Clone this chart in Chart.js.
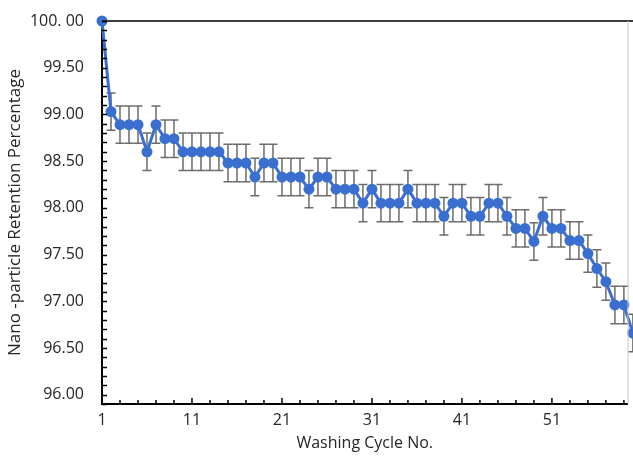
<!DOCTYPE html>
<html>
<head>
<meta charset="utf-8">
<script src="https://cdn.jsdelivr.net/npm/chart.js@4"></script>
<style>
  html, body { margin: 0; padding: 0; background: #fff; }
  #wrap { width: 633px; height: 457px; }
</style>
</head>
<body>
<div id="wrap"><canvas id="chart" width="633" height="457"></canvas></div>
<script>
const cycles = [1, 2, 3, 4, 5, 6, 7, 8, 9, 10, 11, 12, 13, 14, 15, 16, 17, 18, 19, 20,
  21, 22, 23, 24, 25, 26, 27, 28, 29, 30, 31, 32, 33, 34, 35, 36, 37, 38, 39, 40,
  41, 42, 43, 44, 45, 46, 47, 48, 49, 50, 51, 52, 53, 54, 55, 56, 57, 58, 59, 60];

const retention = [100.00, 99.03, 98.89, 98.89, 98.89, 98.60, 98.89, 98.74, 98.74, 98.60,
  98.60, 98.60, 98.60, 98.60, 98.48, 98.48, 98.48, 98.33, 98.48, 98.48,
  98.33, 98.33, 98.33, 98.20, 98.33, 98.33, 98.20, 98.20, 98.20, 98.05,
  98.20, 98.05, 98.05, 98.05, 98.20, 98.05, 98.05, 98.05, 97.91, 98.05,
  98.05, 97.91, 97.91, 98.05, 98.05, 97.91, 97.78, 97.78, 97.64, 97.91,
  97.78, 97.78, 97.65, 97.65, 97.51, 97.35, 97.21, 96.96, 96.96, 96.66];

const errorBars = [0, 0.20, 0.20, 0.20, 0.20, 0.20, 0.20, 0.20, 0.20, 0.20,
  0.20, 0.20, 0.20, 0.20, 0.20, 0.20, 0.20, 0.20, 0.20, 0.20,
  0.20, 0.20, 0.20, 0.20, 0.20, 0.20, 0.20, 0.20, 0.20, 0.20,
  0.20, 0.20, 0.20, 0.20, 0.20, 0.20, 0.20, 0.20, 0.20, 0.20,
  0.20, 0.20, 0.20, 0.20, 0.20, 0.20, 0.20, 0.20, 0.20, 0.20,
  0.20, 0.20, 0.20, 0.20, 0.20, 0.20, 0.20, 0.20, 0.20, 0.20];

const xTickValues = [1, 11, 21, 31, 41, 51];
const xTickLabels = ["1", "11", "21", "31", "41", "51"];
const yTickValues = [96, 96.5, 97, 97.5, 98, 98.5, 99, 99.5, 100];
const yTickLabels = ["96.00", "96.50", "97.00", "97.50", "98.00", "98.50", "99.00", "99.50", "100. 00"];

const textColor = "#262626";
const lineBlue = "#3a6fd0";

// error bars under the line, frame and inner tick marks on top
const extras = {
  id: "extras",
  beforeDatasetsDraw(chart) {
    const { ctx } = chart;
    const xs = chart.scales.x;
    const ys = chart.scales.y;
    ctx.save();
    ctx.strokeStyle = "#6b6b6b";
    ctx.lineWidth = 1.5;
    cycles.forEach((c, i) => {
      const err = errorBars[i];
      if (!err) return;
      const x = xs.getPixelForValue(c);
      const yTop = ys.getPixelForValue(retention[i] + err);
      const yBot = ys.getPixelForValue(retention[i] - err);
      ctx.beginPath();
      ctx.moveTo(x, yTop);
      ctx.lineTo(x, yBot);
      ctx.moveTo(x - 4.5, yTop);
      ctx.lineTo(x + 4.5, yTop);
      ctx.moveTo(x - 4.5, yBot);
      ctx.lineTo(x + 4.5, yBot);
      ctx.stroke();
    });
    ctx.restore();
  },
  afterDraw(chart) {
    const { ctx, chartArea } = chart;
    const xs = chart.scales.x;
    const ys = chart.scales.y;
    ctx.save();
    // top and right frame
    ctx.strokeStyle = "#3c3c3c";
    ctx.lineWidth = 2;
    ctx.beginPath();
    ctx.moveTo(chartArea.left, chartArea.top);
    ctx.lineTo(chart.width, chartArea.top);
    ctx.stroke();
    ctx.strokeStyle = "#c8c8c8";
    ctx.lineWidth = 1;
    ctx.beginPath();
    ctx.moveTo(chartArea.right + 0.5, chartArea.top);
    ctx.lineTo(chartArea.right + 0.5, chartArea.bottom);
    ctx.stroke();

    // inner ticks
    ctx.strokeStyle = "#000";
    ctx.lineWidth = 1.5;
    ctx.beginPath();
    for (let v = xs.min; v <= xs.max; v += 2) {
      const x = xs.getPixelForValue(v);
      const len = (v - 1) % 10 === 0 ? 6 : 4;
      ctx.moveTo(x, chartArea.bottom);
      ctx.lineTo(x, chartArea.bottom - len);
    }
    for (let k = 0; k <= 41; k++) {
      const v = ys.min + k * 0.1;
      if (v > ys.max + 1e-6) break;
      const y = Math.round(ys.getPixelForValue(v)) + 0.5;
      ctx.moveTo(chartArea.left, y);
      ctx.lineTo(chartArea.left + 5, y);
    }
    ctx.stroke();
    ctx.restore();
  }
};

new Chart(document.getElementById("chart"), {
  type: "line",
  data: {
    datasets: [
      {
        data: cycles.map((c, i) => ({ x: c, y: retention[i] })),
        borderColor: lineBlue,
        backgroundColor: lineBlue,
        borderWidth: 3,
        pointRadius: 5.5,
        pointBorderWidth: 0,
        pointHoverRadius: 5.5,
        tension: 0,
        clip: false
      }
    ]
  },
  options: {
    responsive: false,
    animation: false,
    events: [],
    layout: { padding: { top: 21, right: 3, left: 0, bottom: 0 } },
    plugins: {
      legend: { display: false },
      tooltip: { enabled: false }
    },
    scales: {
      x: {
        type: "linear",
        min: 1,
        max: 59.4,
        afterBuildTicks: (scale) => {
          scale.ticks = xTickValues.map((v) => ({ value: v }));
        },
        afterFit: (scale) => {
          scale.height = 53;
          scale.paddingLeft = 0;
          scale.paddingRight = 0;
        },
        grid: { display: false, drawTicks: false },
        border: { display: true, color: "#000", width: 2 },
        ticks: {
          color: textColor,
          padding: 7,
          maxRotation: 0,
          autoSkip: false,
          font: { family: "'Open Sans'", size: 16 },
          callback: (v, i) => xTickLabels[i]
        },
        title: {
          display: true,
          text: "Washing Cycle No.",
          color: textColor,
          padding: { top: 0, bottom: 4 },
          font: { family: "'Open Sans'", size: 16 }
        }
      },
      y: {
        type: "linear",
        min: 95.9,
        max: 100,
        afterBuildTicks: (scale) => {
          scale.ticks = yTickValues.map((v) => ({ value: v }));
        },
        afterFit: (scale) => {
          scale.width = 102;
          scale.paddingTop = 0;
          scale.paddingBottom = 0;
        },
        grid: { display: false, drawTicks: false },
        border: { display: true, color: "#000", width: 2 },
        ticks: {
          color: textColor,
          padding: 18,
          autoSkip: false,
          font: { family: "'Open Sans'", size: 16 },
          callback: (v, i) => yTickLabels[i]
        },
        title: {
          display: true,
          text: "Nano -particle Retention Percentage",
          color: textColor,
          padding: { top: 5, bottom: 0 },
          font: { family: "'Open Sans'", size: 17 }
        }
      }
    }
  },
  plugins: [extras]
});
</script>
</body>
</html>
